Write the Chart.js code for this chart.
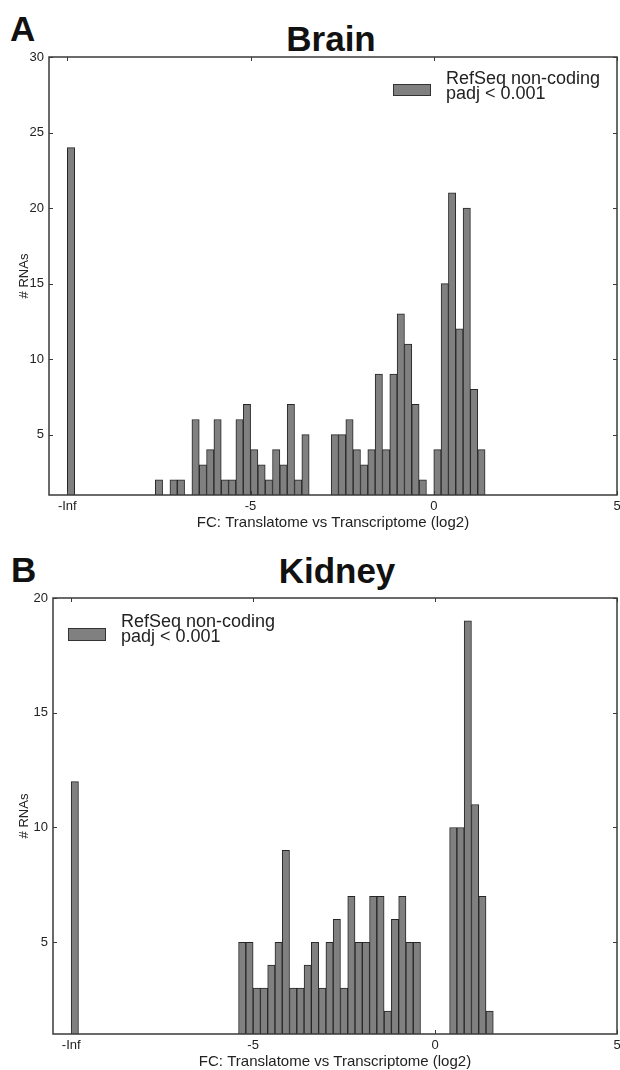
<!DOCTYPE html>
<html>
<head>
<meta charset="utf-8">
<script src="https://cdn.jsdelivr.net/npm/chart.js@4.4.1/dist/chart.umd.min.js"></script>
<style>
  html, body { margin: 0; padding: 0; background: #fff; overflow: hidden; width: 620px; height: 1070px; }
  body { position: relative; font-family: "Liberation Sans", Arial, sans-serif; color: #111; }
  canvas { position: absolute; left: 0; }
  .letter, .title { position: absolute; font-weight: bold; font-size: 35px; line-height: 1; white-space: nowrap; }
  .title { transform: translateX(-50%); }
  .legend { position: absolute; font-size: 18px; color: #222; }
  .legend .swatch { position: absolute; box-sizing: border-box; width: 38px; background: #808080; border: 1px solid #333; }
  .legend .text { position: absolute; white-space: nowrap; }
</style>
</head>
<body>
<div class="letter" style="left:10px;top:11px">A</div>
<div class="title" style="left:331px;top:21px">Brain</div>
<canvas id="brain" width="626" height="535" style="top:0"></canvas>
<div class="legend">
  <span class="swatch" style="left:393px;top:84px;height:12px"></span>
  <div class="text" style="left:446px;top:71px;line-height:14.5px">RefSeq non-coding<br>padj &lt; 0.001</div>
</div>

<div class="letter" style="left:11px;top:552px">B</div>
<div class="title" style="left:337px;top:553px">Kidney</div>
<canvas id="kidney" width="626" height="534" style="top:540px"></canvas>
<div class="legend">
  <span class="swatch" style="left:68px;top:628px;height:13px"></span>
  <div class="text" style="left:121px;top:614px;line-height:15px">RefSeq non-coding<br>padj &lt; 0.001</div>
</div>

<script>
// histogram bins (left edge, log2 FC; -10 stands for -Inf) and counts
const brainBins = [-10, -7.6, -7.2, -7.0, -6.6, -6.4, -6.2, -6.0, -5.8, -5.6,
  -5.4, -5.2, -5.0, -4.8, -4.6, -4.4, -4.2, -4.0, -3.8, -3.6,
  -2.8, -2.6, -2.4, -2.2, -2.0, -1.8, -1.6, -1.4, -1.2, -1.0,
  -0.8, -0.6, -0.4, 0.0, 0.2, 0.4, 0.6, 0.8, 1.0, 1.2];
const brainCounts = [24, 2, 2, 2, 6, 3, 4, 6, 2, 2,
  6, 7, 4, 3, 2, 4, 3, 7, 2, 5,
  5, 5, 6, 4, 3, 4, 9, 4, 9, 13,
  11, 7, 2, 4, 15, 21, 12, 20, 8, 4];

const kidneyBins = [-10, -5.4, -5.2, -5.0, -4.8, -4.6, -4.4, -4.2, -4.0, -3.8,
  -3.6, -3.4, -3.2, -3.0, -2.8, -2.6, -2.4, -2.2, -2.0, -1.8,
  -1.6, -1.4, -1.2, -1.0, -0.8, -0.6, 0.4, 0.6, 0.8, 1.0, 1.2, 1.4];
const kidneyCounts = [12, 5, 5, 3, 3, 4, 5, 9, 3, 3,
  4, 5, 3, 5, 6, 3, 7, 5, 5, 7,
  7, 2, 6, 7, 5, 5, 10, 10, 19, 11, 7, 2];

const BIN_WIDTH = 0.2;
const xTickValues = [-10, -5, 0, 5];
const xTickLabels = ["-Inf", "-5", "0", "5"];
const brainYTicks = [5, 10, 15, 20, 25, 30];
const kidneyYTicks = [5, 10, 15, 20];
const xTitle = "FC: Translatome vs Transcriptome (log2)";

Chart.defaults.font.family = '"Liberation Sans", Arial, sans-serif';
Chart.defaults.color = "#222";

// matplotlib-like frame with inward ticks on all four sides
const framePlugin = {
  id: "frame",
  afterDatasetsDraw(chart) {
    const { ctx, chartArea: a, scales } = chart;
    ctx.save();
    ctx.strokeStyle = "#3a3a3a";
    ctx.lineWidth = 1;
    ctx.beginPath();
    for (const t of scales.x.ticks) {
      const px = Math.round(scales.x.getPixelForValue(t.value)) + 0.5;
      ctx.moveTo(px, a.top); ctx.lineTo(px, a.top + 4);
      ctx.moveTo(px, a.bottom); ctx.lineTo(px, a.bottom - 4);
    }
    for (const t of scales.y.ticks) {
      const py = Math.round(scales.y.getPixelForValue(t.value)) + 0.5;
      ctx.moveTo(a.left, py); ctx.lineTo(a.left + 4, py);
      ctx.moveTo(a.right, py); ctx.lineTo(a.right - 4, py);
    }
    ctx.stroke();
    ctx.lineWidth = 1.5;
    ctx.strokeRect(a.left, a.top, a.right - a.left, a.bottom - a.top);
    ctx.restore();
  },
};

function histChart(canvas, bins, counts, yMax, yTicks, layout) {
  const data = bins.map((b, i) => ({ x: b + BIN_WIDTH / 2, y: counts[i] }));
  return new Chart(canvas, {
    type: "bar",
    data: {
      datasets: [{
        data, backgroundColor: "#808080", borderColor: "#262626", borderWidth: 1,
        barPercentage: 1, categoryPercentage: 1, clip: 0,
      }],
    },
    options: {
      responsive: false, animation: false,
      layout: { padding: { top: layout.top, right: 9, left: 0, bottom: 0 } },
      plugins: { legend: { display: false }, tooltip: { enabled: false } },
      scales: {
        x: {
          type: "linear", min: -10.5, max: 5, offset: false,
          grid: { display: false, drawTicks: false, offset: false }, border: { display: false },
          afterBuildTicks: (s) => { s.ticks = xTickValues.map((v) => ({ value: v })); },
          ticks: { callback: (v, i) => xTickLabels[i], font: { size: 13 }, padding: 4, maxRotation: 0, autoSkip: false },
          title: { display: true, text: xTitle, font: { size: 15 }, padding: { top: 0, bottom: 3 } },
          afterFit: (s) => { s.height = 40; },
        },
        y: {
          min: 1, max: yMax,
          grid: { display: false, drawTicks: false }, border: { display: false },
          afterBuildTicks: (s) => { s.ticks = yTicks.map((v) => ({ value: v })); },
          ticks: { font: { size: 13 }, padding: 5 },
          title: { display: true, text: "# RNAs", font: { size: 13 }, padding: { top: 17, bottom: 0 } },
          afterFit: (s) => { s.width = layout.left; },
        },
      },
    },
    plugins: [framePlugin],
  });
}

histChart(document.getElementById("brain"), brainBins, brainCounts, 30, brainYTicks, { top: 57, left: 49 });
histChart(document.getElementById("kidney"), kidneyBins, kidneyCounts, 20, kidneyYTicks, { top: 58, left: 53 });
</script>
</body>
</html>
